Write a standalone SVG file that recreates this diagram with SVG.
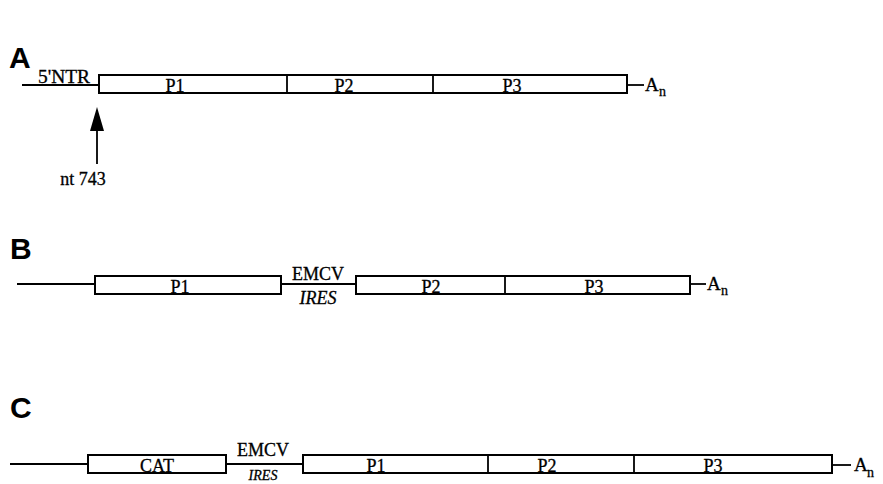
<svg xmlns="http://www.w3.org/2000/svg" width="883" height="484" viewBox="0 0 883 484">
<style>
.bg{fill:#fff}
.box{fill:#fff;stroke:#000;stroke-width:2}
.ln{stroke:#000;stroke-width:1.8;fill:none}
.t{font-family:"Liberation Serif","Times New Roman",serif;font-size:18px;fill:#000;stroke:#000;stroke-width:0.3}
.c{text-anchor:middle}
.it{font-style:italic}
.big{font-family:"Liberation Sans",Arial,sans-serif;font-weight:bold;font-size:30px;fill:#000}
.sub{font-family:"Liberation Serif","Times New Roman",serif;font-size:14px;fill:#000;stroke:#000;stroke-width:0.3}
</style>
<rect class="bg" x="0" y="0" width="883" height="484"/>
<g id="labels">
<text class="big" x="9" y="68">A</text>
<text class="big" x="10" y="259">B</text>
<text class="big" x="10" y="418">C</text>
</g>
<g id="connectors">
<line class="ln" x1="22" y1="85" x2="99" y2="85"/>
<line class="ln" x1="627" y1="85" x2="644" y2="85"/>
<line class="ln" x1="97" y1="128" x2="97" y2="164"/>
<polygon points="97,107 90,131 104,131" fill="#000"/>
<line class="ln" x1="17" y1="284" x2="95" y2="284"/>
<line class="ln" x1="281" y1="284" x2="356" y2="284"/>
<line class="ln" x1="690" y1="284" x2="706" y2="284"/>
<line class="ln" x1="10" y1="464" x2="88" y2="464"/>
<line class="ln" x1="226" y1="464" x2="303" y2="464"/>
<line class="ln" x1="832" y1="465" x2="851" y2="465"/>
</g>
<g id="rowA">
<text class="t" x="38" y="83" textLength="52" lengthAdjust="spacingAndGlyphs">5'NTR</text>
<rect class="box" x="99" y="75" width="528" height="18"/>
<line class="ln" x1="287" y1="75" x2="287" y2="93"/>
<line class="ln" x1="433" y1="75" x2="433" y2="93"/>
<text class="t c" x="175" y="92">P1</text>
<text class="t c" x="344" y="92">P2</text>
<text class="t c" x="512" y="92">P3</text>
<text class="t" x="645" y="91" style="font-size:19px">A</text>
<text class="sub" x="659" y="96">n</text>
<text class="t c" x="83" y="185">nt 743</text>
</g>
<g id="rowB">
<rect class="box" x="95" y="276" width="186" height="18"/>
<text class="t c" x="180" y="293">P1</text>
<text class="t c" x="318" y="280">EMCV</text>
<text class="t c it" x="318" y="304">IRES</text>
<rect class="box" x="356" y="276" width="334" height="18"/>
<line class="ln" x1="505" y1="276" x2="505" y2="294"/>
<text class="t c" x="431" y="293">P2</text>
<text class="t c" x="594" y="293">P3</text>
<text class="t" x="707" y="290" style="font-size:19px">A</text>
<text class="sub" x="721" y="295">n</text>
</g>
<g id="rowC">
<rect class="box" x="88" y="455" width="138" height="18"/>
<text class="t c" x="157" y="472">CAT</text>
<text class="t c" x="263" y="456">EMCV</text>
<text class="t c it" x="263" y="480" style="font-size:14px">IRES</text>
<rect class="box" x="303" y="455" width="529" height="18"/>
<line class="ln" x1="488" y1="455" x2="488" y2="473"/>
<line class="ln" x1="634" y1="455" x2="634" y2="473"/>
<text class="t c" x="376" y="472">P1</text>
<text class="t c" x="547" y="472">P2</text>
<text class="t c" x="713" y="472">P3</text>
<text class="t" x="854" y="471" style="font-size:19px">A</text>
<text class="sub" x="867" y="477">n</text>
</g>
</svg>
